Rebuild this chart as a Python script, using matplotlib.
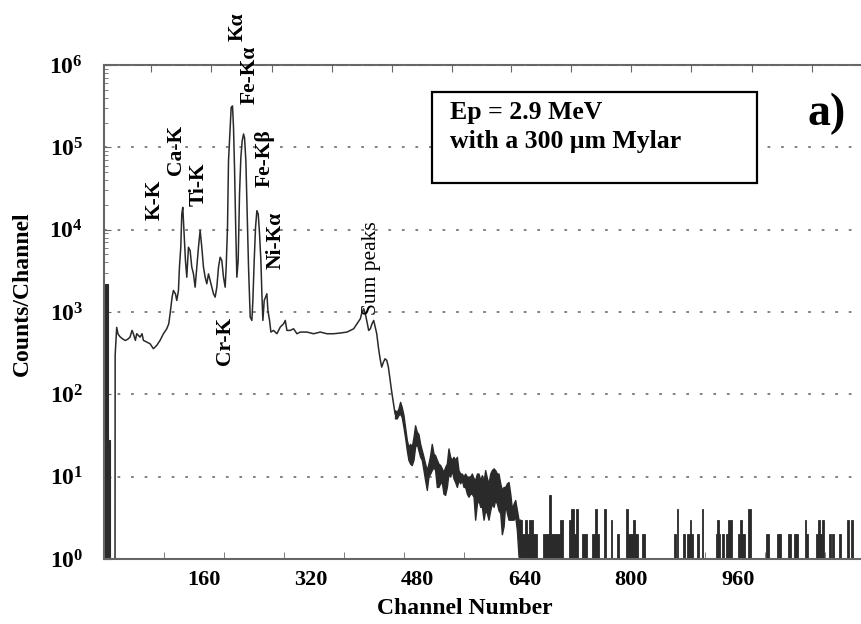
import numpy as np
import matplotlib.pyplot as plt
from matplotlib.patches import Rectangle
from matplotlib.ticker import FixedLocator, FuncFormatter, NullFormatter

plt.rcParams['font.family'] = ['Liberation Serif', 'DejaVu Serif']
plt.rcParams['font.weight'] = 'bold'
plt.rcParams['mathtext.default'] = 'regular'

# main part of the spectrum (channel, counts per channel)
channels = [26.5, 26.7, 27.5, 29, 31, 34, 38, 42, 46, 49, 52, 54, 57, 59, 64, 67, 69, 74, 79,
            84, 89, 94, 99, 104, 107, 109, 112, 114, 117, 119, 121.5, 123, 125, 126.5, 128,
            130, 132, 134, 136.5, 139, 141.5, 144, 146.5, 149, 151.5, 154, 156.5, 159, 161.5,
            164, 166.5, 169, 171.5, 174, 176.5, 179, 181.5, 184, 186.5, 189, 191.5, 193, 195,
            196.5, 199, 200.5, 202.5, 204, 205.5, 207.5, 209, 211, 213, 215, 217, 219, 220.5,
            222.5, 224, 226.5, 229, 231.5, 233, 235, 237, 239, 241, 243, 245, 246.5, 248, 250,
            252, 254, 255.5, 258, 260, 264, 269, 274, 279, 281.5, 284, 289, 294, 299, 304, 314,
            324, 334, 344, 354, 364, 374, 379, 384, 389, 394, 396.5, 399, 401.5, 404, 406.5,
            409, 411.5, 414, 418.6, 421, 423.6, 426, 428.6, 431, 433.6, 436, 438.6, 441, 443.6,
            446]
counts = [1, 300, 400, 650, 540, 500, 470, 450, 470, 495, 597, 544, 452, 544, 495, 544, 452,
          431, 411, 358, 393, 452, 544, 625, 719, 951, 1514, 1824, 1661, 1380, 1824, 3500,
          6110, 15500, 18660, 8870, 4210, 2644, 6110, 5570, 3500, 2900, 2000, 3500, 6110,
          9730, 6110, 3500, 2644, 2200, 2900, 2410, 2000, 1661, 1514, 2000, 3500, 4620, 4210,
          2644, 2000, 3500, 10700, 68700, 174000, 304000, 318000, 174000, 57000, 8870, 2644,
          4210, 27100, 75400, 120000, 145000, 131000, 68700, 22500, 3500, 867, 789, 1380,
          4210, 10700, 17000, 15500, 8870, 4210, 1661, 789, 1380, 1514, 1661, 1043, 789, 570,
          597, 544, 655, 719, 789, 597, 597, 625, 544, 570, 570, 544, 570, 544, 544, 555, 570,
          597, 625, 719, 828, 996, 1094, 951, 754, 597, 625, 719, 789, 543, 374, 270, 214, 246,
          270, 258, 214, 148, 107, 77, 58]

# noisy tail, drawn as a dense band between its upper and lower envelope
tail_channels = [446, 448.6, 451, 453.6, 456, 458.6, 461, 463.6, 466, 468.6, 471, 473.6, 476,
                 478.6, 481, 483.6, 486, 488.6, 491, 493.6, 496, 498.6, 501, 503.6, 506, 508.6,
                 511, 513.6, 516, 518.6, 521, 523.6, 526, 528.6, 531, 533.6, 536, 538.6, 541,
                 543.6, 546, 548.6, 551, 553.6, 556, 558.6, 561, 563.6, 566, 568.6, 571, 573.6,
                 576, 578.6, 581, 583.6, 586, 588.6, 591, 593.6, 596, 598.6, 601, 603.6, 606,
                 608.6, 611, 613.6, 616, 618.6, 621, 623.6, 626, 628.6, 631, 633.4]
tail_high = [64, 61, 67, 81, 70, 56, 40, 28, 23, 25, 23, 30, 42, 35, 33, 25, 21, 17.4, 14.4,
             12, 14.4, 18.2, 25, 19, 18.2, 16, 14.4, 13.8, 12.6, 11.4, 13.1, 14.4, 22, 17.4,
             16, 17.4, 16, 17.4, 12, 10.9, 10.9, 10, 10.9, 10, 10, 10, 10.9, 9.6, 9.1, 10.9,
             10.9, 9.1, 10.4, 8.6, 12, 9.6, 8.3, 10.9, 12, 12.6, 12, 10.9, 10.9, 8.3, 6.9, 7.5,
             7.5, 8.3, 8.6, 6.2, 4.1, 4.7, 5.2, 3.9, 3, 3]
tail_low = [51, 51, 56, 58, 53, 40, 30, 21, 16, 14.4, 13.8, 16, 23, 25, 21, 17.4, 16, 12, 9.1,
            6.9, 10, 10.9, 12, 13.1, 12, 7.5, 7.5, 8.3, 8.6, 6.2, 6.0, 7.5, 10.9, 10, 12, 9.5,
            8.6, 7.5, 9.1, 8.3, 9.1, 7.5, 7.5, 6.2, 5.7, 6.2, 6.2, 5.7, 3.0, 4.7, 5.2, 4.3,
            4.3, 3.0, 3.9, 3.6, 3.0, 3.9, 4.7, 4.3, 5.2, 4.7, 3.9, 3.6, 2.0, 2.5, 4.7, 3.6,
            3.0, 3.0, 3.0, 3.0, 3.3, 2.2, 1.07, 1]

# sparse region: channel ranges holding more than one count
sparse_start = [633.4, 636.4, 640.9, 644.3, 647.3, 653.3, 667.3, 677.3, 680.3, 693.3, 706.8,
                710.3, 714.2, 717.2, 726.7, 740.7, 745.7, 749.2, 759.2, 769.2, 779.2, 791.6,
                795.6, 803.1, 805.6, 815.6, 864.0, 868.0, 878.0, 884.0, 888.0, 889.5, 899.0,
                906.0, 926.4, 929.0, 932.0, 935.4, 942.0, 945.4, 959.4, 963.0, 966.4, 975.4,
                1001.8, 1017.8, 1035.3, 1044.3, 1060.2, 1061.7, 1076.2, 1079.2, 1082.7, 1085.2,
                1096.2, 1100.2, 1111.7, 1122.7, 1129.2]
sparse_end = [636.4, 640.9, 644.3, 647.3, 653.3, 658.3, 677.3, 680.3, 693.3, 697.3, 710.3,
              714.2, 717.2, 720.2, 734.2, 745.7, 749.2, 751.2, 762.2, 771.7, 782.2, 795.6,
              803.1, 805.6, 810.6, 820.6, 866.5, 870.5, 880.5, 888.0, 889.5, 892.0, 901.0,
              908.0, 929.0, 932.0, 933.0, 939.4, 945.4, 950.4, 963.0, 966.4, 970.4, 979.4,
              1005.8, 1023.8, 1039.3, 1050.3, 1061.7, 1065.2, 1079.2, 1082.7, 1085.2, 1088.7,
              1098.7, 1104.2, 1114.2, 1126.2, 1132.7]
sparse_counts = [3, 2, 3, 2, 3, 2, 2, 6, 2, 3, 3, 4, 2, 4, 2, 2, 4, 2, 4, 3, 2, 4, 2, 3, 2, 2,
                 2, 4, 2, 2, 3, 2, 2, 4, 2, 3, 2, 2, 2, 3, 2, 3, 2, 4, 2, 2, 2, 2, 3, 2, 2, 3,
                 2, 3, 2, 2, 2, 3, 3]

# spikes at the low-channel edge
edge_start = [11.0, 15.5]
edge_end = [15.5, 19.0]
edge_counts = [2200, 28]

# peak labels (text, channel, counts at the label centre, weight)
peak_labels = ['K-K', 'Ca-K', 'Ti-K', 'K\u03b1', 'Fe-K\u03b1', 'Fe-K\u03b2', 'Ni-K\u03b1',
               'Cr-K', 'Sum peaks']
peak_channels = [86.6, 117.1, 151.7, 210.0, 228.1, 250.6, 267.1, 191.4, 411.0]
peak_counts = [2.3e4, 9.3e4, 3.6e4, 2.95e6, 7.6e5, 7.4e4, 7.4e3, 450, 3.4e3]
peak_weights = ['bold'] * 8 + ['normal']

x_labels = [160, 320, 480, 640, 800, 960]
bottom_ticks = [100, 190, 280, 370, 460, 550, 640, 730, 820, 910, 1000, 1090]
top_ticks = [81, 171, 261, 351, 441, 531, 620, 710, 800, 890, 980, 1070]
decades = [1, 10, 100, 1e3, 1e4, 1e5, 1e6]

fig = plt.figure(figsize=(8.61, 6.24), dpi=100)
ax = fig.add_axes([0.1208, 0.1042, 0.8792, 0.7917])
ax.set_yscale('log')
ax.set_xlim(10, 1144)
ax.set_ylim(1, 1e6)

line_color = '#2a2a2a'
ax.plot(channels, counts, color=line_color, lw=1.1, zorder=2)
ax.fill_between(tail_channels, tail_low, tail_high, color=line_color, lw=1.0,
                edgecolor=line_color, zorder=2)

sp_start = np.array(sparse_start)
sp_width = np.array(sparse_end) - sp_start
ax.bar(sp_start, np.array(sparse_counts) - 1, width=sp_width, bottom=1, align='edge',
       color=line_color, edgecolor=line_color, linewidth=0.6, zorder=2)
ed_start = np.array(edge_start)
ax.bar(ed_start, np.array(edge_counts) - 1, width=np.array(edge_end) - ed_start, bottom=1,
       align='edge', color=line_color, edgecolor=line_color, linewidth=0.8, zorder=2)

# axes styling
ax.set_axisbelow(True)
ax.yaxis.grid(True, which='major', linestyle=(0, (1.5, 6)), color='#777777', lw=1.3)
for side in ['left', 'bottom', 'top']:
    ax.spines[side].set_color('#666666')
    ax.spines[side].set_linewidth(1.5)
ax.spines['right'].set_visible(False)
ax.spines['top'].set_visible(False)

ax.xaxis.set_major_locator(FixedLocator(x_labels))
ax.xaxis.set_minor_locator(FixedLocator(bottom_ticks))
ax.tick_params(axis='x', which='major', length=0, pad=8, labelsize=16)
ax.tick_params(axis='x', which='minor', direction='in', length=5, color='#666666')

# log minor ticks inside the visible decades only
minor_y = [m * d for d in decades[:-1] for m in range(2, 10)]
ax.yaxis.set_major_locator(FixedLocator(decades))
ax.yaxis.set_minor_locator(FixedLocator(minor_y))
ax.yaxis.set_minor_formatter(NullFormatter())
ax.yaxis.set_major_formatter(FuncFormatter(lambda v, p: r'$10^{%d}$' % round(np.log10(v))))
ax.tick_params(axis='y', which='major', direction='in', length=5, pad=15, labelsize=17,
               color='#666666')
ax.tick_params(axis='y', which='minor', direction='in', length=3, color='#666666')

secax = ax.secondary_xaxis('top')
secax.set_xticks(top_ticks)
secax.xaxis.set_major_formatter(NullFormatter())
secax.tick_params(direction='in', length=5, color='#666666')
secax.spines['top'].set_color('#666666')
secax.spines['top'].set_linewidth(1.5)

ax.set_xlabel('Channel Number', fontsize=17, fontweight='bold', labelpad=6)
ax.xaxis.label.set_x(0.476)
fig.text(0.026, 0.53, 'Counts/Channel', rotation=90, ha='center', va='center', fontsize=17)

# peak annotations
for label, ch, cnt, wt in zip(peak_labels, peak_channels, peak_counts, peak_weights):
    ax.text(ch, cnt, label, rotation=90, ha='center', va='center', fontsize=15.5,
            fontweight=wt, clip_on=False, zorder=4)

# info box
ax.add_patch(Rectangle((0.433, 0.762), 0.4296, 0.183, transform=ax.transAxes,
                       facecolor='white', edgecolor='black', lw=1.6, zorder=3))
ax.text(0.457, 0.903, 'Ep = 2.9 MeV', transform=ax.transAxes, ha='left', va='center',
        fontsize=18.5, zorder=4)
ax.text(0.457, 0.846, 'with a 300 \u03bcm Mylar', transform=ax.transAxes, ha='left',
        va='center', fontsize=18.5, zorder=4)
ax.text(0.955, 0.9, 'a)', transform=ax.transAxes, ha='center', va='center', fontsize=33,
        zorder=4)

fig.savefig('out.png', dpi=100)
